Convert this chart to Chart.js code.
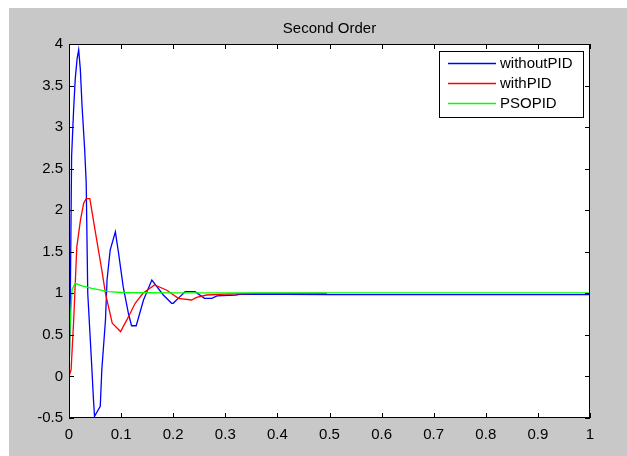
<!DOCTYPE html>
<html>
<head>
<meta charset="utf-8">
<script src="https://cdn.jsdelivr.net/npm/chart.js@4/dist/chart.umd.min.js"></script>
<style>
  body { margin: 0; background: #fff; }
  #frame { position: absolute; left: 9px; top: 8px; width: 618px; height: 448px; background: #c8c8c8; }
  #wrap { position: absolute; left: 0; top: 0; width: 627px; height: 456px; }
</style>
</head>
<body>
<div id="frame"></div>
<div id="wrap"><canvas id="plot" width="627" height="456"></canvas></div>
<script>
// series
var blueT = [0, 0.002, 0.005, 0.009, 0.012, 0.0155, 0.0186, 0.0217, 0.025, 0.030, 0.033, 0.036, 0.043, 0.047, 0.049, 0.060, 0.063, 0.070, 0.073, 0.079, 0.089, 0.095, 0.104, 0.114, 0.120, 0.129, 0.143, 0.159, 0.181, 0.197, 0.200, 0.213, 0.223, 0.242, 0.260, 0.274, 0.284, 0.320, 0.330, 0.500, 1.0];
var blueV = [0, 0.6, 2.65, 3.23, 3.58, 3.82, 3.93, 3.70, 3.26, 2.74, 2.33, 1.0, 0.2, -0.28, -0.48, -0.36, 0.08, 0.68, 1.16, 1.52, 1.74, 1.49, 1.08, 0.76, 0.61, 0.61, 0.92, 1.16, 0.98, 0.88, 0.88, 0.96, 1.02, 1.02, 0.94, 0.94, 0.97, 0.98, 0.99, 0.985, 0.985];
var redT = [0, 0.004, 0.009, 0.015, 0.022, 0.028, 0.033, 0.040, 0.050, 0.063, 0.070, 0.083, 0.099, 0.111, 0.127, 0.142, 0.164, 0.187, 0.210, 0.235, 0.245, 0.264, 0.300, 0.360, 0.495];
var redV = [0, 0.08, 0.68, 1.56, 1.88, 2.08, 2.14, 2.14, 1.76, 1.28, 1.0, 0.64, 0.54, 0.68, 0.88, 1.0, 1.10, 1.04, 0.94, 0.92, 0.95, 0.98, 0.99, 1.0, 1.0];
var greenT = [0, 0.002, 0.006, 0.012, 0.025, 0.044, 0.076, 0.100, 0.200, 1.0];
var greenV = [0, 0.6, 1.05, 1.12, 1.09, 1.06, 1.02, 1.01, 1.005, 1.005];
var seriesNames = ['withoutPID', 'withPID', 'PSOPID'];
var seriesColors = ['#0000ff', '#ff0000', '#00ff00'];

function pts(t, v) { return t.map(function(x, i) { return {x: x, y: v[i]}; }); }

var FONT = '"Liberation Sans", Arial, sans-serif';

// white axes box, black frame and ticks pointing inward (matlab style)
var boxPlugin = {
    id: 'box',
    beforeDraw: function(chart) {
        var a = chart.chartArea, c = chart.ctx;
        c.save();
        c.fillStyle = '#fff';
        c.fillRect(a.left, a.top, a.right - a.left, a.bottom - a.top);
        c.restore();
    },
    afterDraw: function(chart) {
        var a = chart.chartArea, c = chart.ctx;
        var xs = chart.scales.x, ys = chart.scales.y;
        c.save();
        c.strokeStyle = '#000';
        c.lineWidth = 1;
        c.strokeRect(a.left + 0.5, a.top + 0.5, a.right - a.left - 1, a.bottom - a.top - 1);
        c.beginPath();
        xs.ticks.forEach(function(t) {
            var px = Math.round(xs.getPixelForValue(t.value)) + 0.5;
            c.moveTo(px, a.bottom); c.lineTo(px, a.bottom - 5);
            c.moveTo(px, a.top); c.lineTo(px, a.top + 5);
        });
        ys.ticks.forEach(function(t) {
            var py = Math.round(ys.getPixelForValue(t.value)) + 0.5;
            c.moveTo(a.left, py); c.lineTo(a.left + 5, py);
            c.moveTo(a.right, py); c.lineTo(a.right - 5, py);
        });
        c.stroke();

        // legend box in the top right corner
        var lx = 439, ly = 51, lw = 144, lh = 66;
        c.fillStyle = '#fff';
        c.fillRect(lx, ly, lw, lh);
        c.strokeStyle = '#000';
        c.strokeRect(lx + 0.5, ly + 0.5, lw, lh);
        c.font = '15px ' + FONT;
        c.textBaseline = 'middle';
        for (var i = 0; i < seriesNames.length; i++) {
            var y = ly + 12 + i * 20 + 0.5;
            c.beginPath();
            c.strokeStyle = seriesColors[i];
            c.lineWidth = 1.3;
            c.moveTo(448, y);
            c.lineTo(496, y);
            c.stroke();
            c.fillStyle = '#000';
            c.fillText(seriesNames[i], 500, y);
        }
        c.restore();
    }
};

function fmt(v) { return String(+Number(v).toFixed(1)); }

new Chart(document.getElementById('plot'), {
    type: 'line',
    data: {
        datasets: [
            {label: seriesNames[0], data: pts(blueT, blueV), borderColor: seriesColors[0], order: 2},
            {label: seriesNames[1], data: pts(redT, redV), borderColor: seriesColors[1], order: 1},
            {label: seriesNames[2], data: pts(greenT, greenV), borderColor: seriesColors[2], order: 0}
        ]
    },
    options: {
        responsive: false,
        animation: false,
        layout: {padding: {left: 0, right: 37, top: 0, bottom: 0}},
        elements: {
            line: {borderWidth: 1.3, tension: 0, fill: false},
            point: {radius: 0}
        },
        plugins: {
            legend: {display: false},
            tooltip: {enabled: false},
            title: {
                display: true,
                text: 'Second Order',
                color: '#000',
                align: 'center',
                font: {family: FONT, size: 15, weight: 'normal'},
                padding: {top: 20, bottom: 6}
            }
        },
        scales: {
            x: {
                type: 'linear',
                min: 0, max: 1,
                grid: {display: false, drawTicks: false},
                border: {display: false},
                ticks: {stepSize: 0.1, color: '#000', padding: 8, maxRotation: 0,
                        font: {family: FONT, size: 15}, callback: fmt},
                afterFit: function(s) { s.height = 38; }
            },
            y: {
                min: -0.5, max: 4,
                grid: {display: false, drawTicks: false},
                border: {display: false},
                ticks: {stepSize: 0.5, color: '#000', padding: 6,
                        font: {family: FONT, size: 15}, callback: fmt},
                afterFit: function(s) { s.width = 69; }
            }
        }
    },
    plugins: [boxPlugin, {
        // keep the title centred over the axes box, as in the original
        id: 'titleCentre',
        afterLayout: function(chart) {
            var t = chart.titleBlock, a = chart.chartArea;
            if (t) { t.left = a.left; t.right = a.right; t.width = a.right - a.left; }
        }
    }]
});
</script>
</body>
</html>
